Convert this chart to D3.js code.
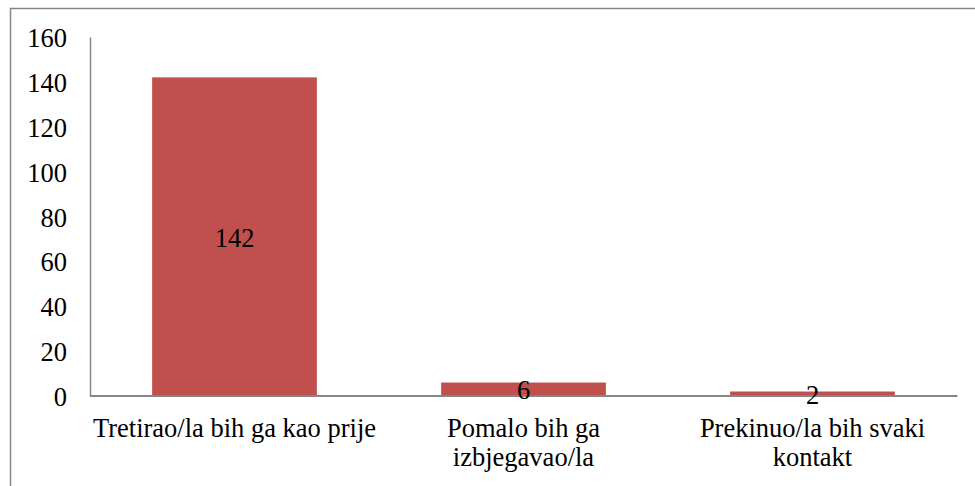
<!DOCTYPE html>
<html>
<head>
<meta charset="utf-8">
<script src="https://cdn.jsdelivr.net/npm/d3@7"></script>
<style>
  html, body { margin: 0; padding: 0; background: #fff; }
  svg text { font-family: "Liberation Serif", "Times New Roman", Times, serif; }
</style>
</head>
<body>
<div id="chart"></div>
<script>
// data
const categories = [
    ["Tretirao/la bih ga kao prije"],
    ["Pomalo bih ga", "izbjegavao/la"],
    ["Prekinuo/la bih svaki", "kontakt"]
];
const values = [142, 6, 2];
const yTicks = [0, 20, 40, 60, 80, 100, 120, 140, 160];

const width = 975;
const height = 486;
const barColor = "#c0504d";
const axisColor = "#868686";
const fontSize = 26.5;

const svg = d3.select("#chart").append("svg")
    .attr("width", width)
    .attr("height", height);

// outer frame (runs off the right and bottom edge)
svg.append("rect")
    .attr("x", 10.5)
    .attr("y", 8.5)
    .attr("width", width)
    .attr("height", height)
    .attr("fill", "none")
    .attr("stroke", axisColor)
    .attr("stroke-width", 1.5);

const x = d3.scaleBand()
    .domain(d3.range(values.length))
    .range([90, 957])
    .paddingInner(0.43)
    .paddingOuter(0.215);

const y = d3.scaleLinear()
    .domain([0, 160])
    .range([396, 37]);

// bars
svg.append("g")
    .selectAll("rect")
    .data(values)
    .join("rect")
    .attr("x", (d, i) => x(i))
    .attr("y", d => y(d))
    .attr("width", x.bandwidth())
    .attr("height", d => y(0) - y(d))
    .attr("fill", barColor);

// y axis, no tick marks
const yAxis = svg.append("g")
    .attr("transform", "translate(90,0)")
    .call(d3.axisLeft(y).tickValues(yTicks).tickSize(0).tickPadding(23));
yAxis.attr("font-family", null).attr("font-size", null);
yAxis.select(".domain").attr("stroke", axisColor).attr("stroke-width", 1.5);
yAxis.selectAll("text")
    .attr("font-size", fontSize)
    .attr("dy", "0.36em")
    .attr("fill", "#000");

// x axis line
svg.append("line")
    .attr("x1", 90)
    .attr("x2", 957.5)
    .attr("y1", y(0))
    .attr("y2", y(0))
    .attr("stroke", axisColor)
    .attr("stroke-width", 2);

// value labels, centered in the bar
svg.append("g")
    .selectAll("text")
    .data(values)
    .join("text")
    .attr("x", (d, i) => x(i) + x.bandwidth() / 2)
    .attr("y", d => (y(d) + y(0)) / 2)
    .attr("dy", "0.38em")
    .attr("text-anchor", "middle")
    .attr("font-size", fontSize)
    .attr("fill", "#000")
    .text(d => d);

// category labels
const catText = svg.append("g")
    .selectAll("text")
    .data(categories)
    .join("text")
    .attr("x", (d, i) => x(i) + x.bandwidth() / 2)
    .attr("y", 437)
    .attr("text-anchor", "middle")
    .attr("font-size", fontSize)
    .attr("fill", "#000");

catText.selectAll("tspan")
    .data(d => d)
    .join("tspan")
    .attr("x", function () { return this.parentNode.getAttribute("x"); })
    .attr("dy", (d, i) => i === 0 ? 0 : 28.5)
    .text(d => d);
</script>
</body>
</html>
